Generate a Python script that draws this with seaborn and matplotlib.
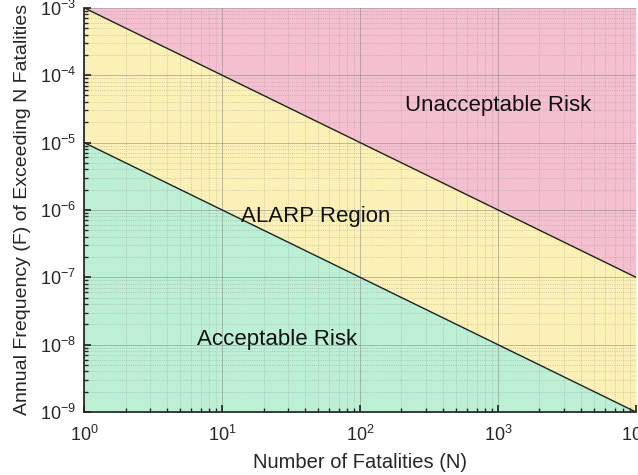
import numpy as np
import pandas as pd
import matplotlib.pyplot as plt
import seaborn as sns

# FN curve limits (slope -1 on log-log)
n_points = [1, 1e4]
upper_limit = [1e-3, 1e-7]
lower_limit = [1e-5, 1e-9]
y_top = [1e-3, 1e-3]
y_bottom = [1e-9, 1e-9]

region_labels = ["Unacceptable Risk", "ALARP Region", "Acceptable Risk"]
label_x = [1000, 48, 25]
label_y = [3.6e-5, 8e-7, 1.2e-8]

sns.set_theme(style="ticks")
plt.rcParams['font.family'] = ['Liberation Sans', 'DejaVu Sans']
plt.rcParams['mathtext.fontset'] = 'custom'
plt.rcParams['mathtext.rm'] = 'Liberation Sans'

df = pd.DataFrame({"N": n_points * 2,
                   "F": upper_limit + lower_limit,
                   "line": ["upper"] * 2 + ["lower"] * 2})

fig = plt.figure(figsize=(6.38, 4.75), dpi=100)
ax = fig.add_axes([0.1317, 0.1326, 0.865, 0.851])

ax.fill_between(n_points, upper_limit, y_top, color='#f4bfcf', lw=0, zorder=1)
ax.fill_between(n_points, lower_limit, upper_limit, color='#fbf0b6', lw=0, zorder=1)
ax.fill_between(n_points, y_bottom, lower_limit, color='#bdefd5', lw=0, zorder=1)

sns.lineplot(data=df, x="N", y="F", units="line", estimator=None,
             color='#222222', lw=1, ax=ax, zorder=3)

ax.set_xscale('log')
ax.set_yscale('log')
ax.set_xlim(1, 1e4)
ax.set_ylim(1e-9, 1e-3)

for txt, x, y in zip(region_labels, label_x, label_y):
    ax.text(x, y, txt, ha='center', va='center', fontsize=16, color='#111111')

# grid over the coloured bands, under the boundary lines
ax.set_axisbelow('line')
ax.grid(True, which='major', color='#808080', alpha=0.5, lw=0.7)
ax.grid(True, which='minor', color='#808080', alpha=0.45, lw=0.6, ls=':')

ax.set_xlabel("Number of Fatalities (N)", fontsize=14.5, color='#262626', labelpad=6)
ax.set_ylabel("Annual Frequency (F) of Exceeding N Fatalities", fontsize=14,
              color='#262626', labelpad=6)
ax.tick_params(which='both', direction='in', labelsize=13, colors='#262626')
ax.tick_params(axis='x', which='major', length=5, pad=9)
ax.tick_params(axis='y', which='major', length=5, pad=6)
ax.tick_params(which='minor', length=3)
sns.despine(ax=ax)
for s in ['left', 'bottom']:
    ax.spines[s].set_color('#262626')

fig.savefig("out.png", dpi=100)
